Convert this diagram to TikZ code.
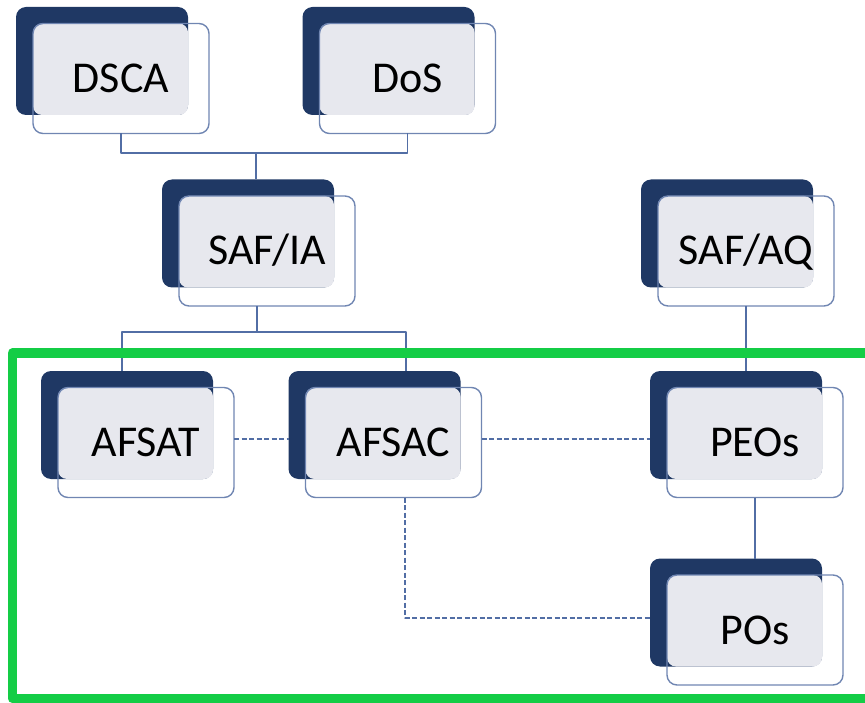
\documentclass[tikz,border=0pt]{standalone}
\usepackage{fontspec}
\setmainfont{Carlito}
\definecolor{navy}{RGB}{31,56,100}
\definecolor{paper}{RGB}{231,232,238}
\definecolor{edge}{RGB}{112,134,178}
\definecolor{wire}{RGB}{82,110,165}
\definecolor{frameg}{RGB}{20,205,70}
\begin{document}
\begin{tikzpicture}[x=1pt, y=-1pt, line join=round,
	backbox/.style={fill=navy, rounded corners=10pt, minimum width=172pt, minimum height=108pt, inner sep=0pt, outer sep=0pt},
	frontbox/.style={draw=edge, line width=1.4pt, rounded corners=10pt, minimum width=176pt, minimum height=110pt, inner sep=0pt, outer sep=0pt, text height=28pt, text depth=0pt, font=\fontsize{44}{50}\selectfont},
	tint/.style={fill=paper, rounded corners=9pt},
	link/.style={draw=wire, line width=1.5pt},
	dlink/.style={link, dash pattern=on 5pt off 2.5pt},
	frame/.style={draw=frameg, line width=9.5pt}]
			\useasboundingbox (0,0) rectangle (865,703);
			% boxes: back panel, shaded overlap, front panel
			\foreach \nm/\px/\py/\txt in {dsca/102/61/DSCA, dos/388.5/61/DoS, safia/248/233.5/{SAF/IA}, safaq/727/233.5/{SAF/AQ}, afsat/127/425/AFSAT, afsac/374.5/425/AFSAC, peos/736/425/PEOs, pos/736/612.5/POs}
			{
				\node[backbox] (\nm-b) at (\px,\py) {};
				\fill[tint] ([shift={(17,16.5)}]\nm-b.north west) rectangle (\nm-b.south east);
				\node[frontbox] (\nm) at ([shift={(19,17.5)}]\nm-b.center) {\txt};
			}
			\coordinate (bus1) at (256,153);
			\coordinate (bus2) at (257,332);
			\draw[link] (dsca.south) |- (bus1) -| (dos.south);
			\draw[link] (bus1) -- (bus1 |- safia-b.north);
			\draw[link] (safia.south -| bus2) -- (bus2);
			\draw[link] ([xshift=-5pt]afsat-b.north) |- (bus2) -| ([xshift=31.5pt]afsac-b.north);
			\draw[link] (safaq.south) -- (safaq.south |- peos-b.north);
			\draw[link] (peos.south) -- (peos.south |- pos-b.north);
			\draw[dlink] ([yshift=3.5pt]afsat.east) -- ([yshift=3.5pt]afsat.east -| afsac-b.west);
			\draw[dlink] ([yshift=3.5pt]afsac.east) -- ([yshift=3.5pt]afsac.east -| peos-b.west);
			\draw[dlink] ([xshift=11.5pt]afsac.south) |- ([yshift=-5.5pt]pos-b.west);
			% green frame, open at the right
			\draw[frame] (875,353) -- (12.5,353) -- (12.5,698.5) -- (875,698.5);
		\end{tikzpicture}
\end{document}
